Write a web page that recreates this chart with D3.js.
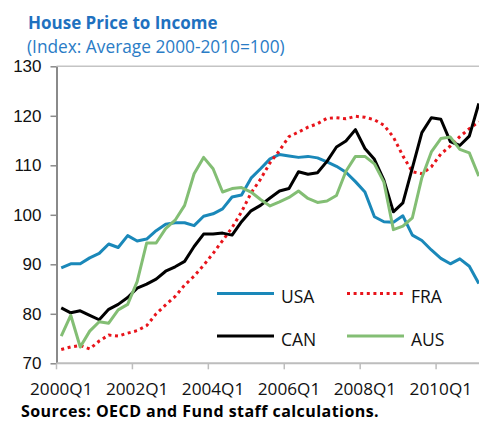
<!DOCTYPE html>
<html>
<head>
<meta charset="utf-8">
<script src="https://cdn.jsdelivr.net/npm/d3@7"></script>
<style>
  body { margin: 0; background: #fff; }
  svg { display: block; }
</style>
</head>
<body>
<div id="chart"></div>
<script>
// quarterly index values, 2000Q1 .. 2011Q1
var usa = [89.3, 90.1, 90.1, 91.3, 92.2, 94.1, 93.4, 95.8, 94.7, 95.1,
           96.8, 98.1, 98.4, 98.4, 97.8, 99.7, 100.2, 101.2, 103.6, 104.0,
           107.4, 109.3, 111.3, 112.2, 111.9, 111.6, 111.8, 111.5, 110.7, 109.8,
           108.6, 106.7, 104.6, 99.6, 98.6, 98.5, 99.8, 95.9, 94.8, 92.9,
           91.2, 90.1, 91.1, 89.6, 86.1];
var fra = [72.8, 73.3, 73.6, 72.9, 74.5, 75.7, 75.5, 76.1, 76.6, 77.6,
           80.0, 81.8, 83.5, 85.8, 87.6, 89.8, 92.2, 94.8, 97.4, 100.6,
           104.4, 107.2, 110.5, 113.0, 115.8, 116.7, 117.7, 118.4, 119.5, 119.6,
           119.4, 119.9, 119.7, 119.2, 118.1, 115.7, 111.9, 108.7, 108.3, 109.7,
           112.3, 113.9, 115.8, 117.4, 118.8];
var can = [81.2, 80.2, 80.6, 79.7, 78.8, 80.9, 81.9, 83.3, 85.2, 86.0,
           87.0, 88.6, 89.5, 90.6, 93.6, 96.1, 96.1, 96.3, 95.9, 98.6,
           100.8, 101.9, 103.4, 104.8, 105.3, 108.7, 108.2, 108.5, 110.8, 113.7,
           114.9, 117.2, 113.4, 111.2, 107.0, 100.6, 102.4, 109.5, 116.6, 119.6,
           119.3, 114.8, 114.0, 115.9, 122.5];
var aus = [75.5, 79.7, 73.3, 76.5, 78.4, 78.1, 80.8, 81.9, 86.5, 94.3,
           94.3, 97.2, 98.9, 101.9, 108.3, 111.6, 109.3, 104.6, 105.3, 105.5,
           104.6, 103.1, 101.8, 102.6, 103.5, 104.8, 103.3, 102.5, 102.8, 103.9,
           108.8, 111.8, 111.8, 110.3, 106.6, 97.0, 97.7, 99.4, 107.5, 112.7,
           115.4, 115.7, 113.2, 112.5, 107.8];

var xTickLabels = ["2000Q1", "2002Q1", "2004Q1", "2006Q1", "2008Q1", "2010Q1"];
var yTicks = [70, 80, 90, 100, 110, 120, 130];

var series = [
  {name: "USA", values: usa, color: "#1a88b9", dash: null},
  {name: "FRA", values: fra, color: "#e8141b", dash: "3,3.6"},
  {name: "CAN", values: can, color: "#000000", dash: null},
  {name: "AUS", values: aus, color: "#83be74", dash: null}
];

var width = 479, height = 422;
var band = 9.49;
var left = 56.5;

var svg = d3.select("#chart").append("svg")
    .attr("width", width)
    .attr("height", height);

var x = d3.scaleLinear()
    .domain([-0.5, usa.length - 0.5])
    .range([left, left + band * usa.length]);

var y = d3.scaleLinear()
    .domain([70, 130])
    .range([363.3, 66.3]);

// title
svg.append("text")
    .attr("x", 28).attr("y", 29)
    .attr("font-family", "'Open Sans', sans-serif")
    .attr("font-weight", "bold")
    .attr("font-size", 17)
    .attr("fill", "#1f71bf")
    .text("House Price to Income");

svg.append("text")
    .attr("x", 27).attr("y", 53)
    .attr("font-family", "'Open Sans', sans-serif")
    .attr("font-size", 17.3)
    .attr("fill", "#2a7cc6")
    .text("(Index: Average 2000-2010=100)");

// top border line
svg.append("line")
    .attr("x1", left).attr("x2", width)
    .attr("y1", y(130)).attr("y2", y(130))
    .attr("stroke", "#c4c4c4")
    .attr("stroke-width", 1.5);

// y axis
var yAxis = svg.append("g")
    .attr("transform", "translate(" + left + ",0)")
    .call(d3.axisLeft(y).tickValues(yTicks).tickSize(6).tickPadding(9).tickSizeOuter(0));
yAxis.select(".domain").attr("stroke", "#8a8a8a").attr("stroke-width", 2);
yAxis.selectAll(".tick line").attr("stroke", "#8a8a8a").attr("stroke-width", 1.5);
yAxis.selectAll(".tick text")
    .attr("font-family", "'Liberation Sans', Arial, sans-serif")
    .attr("font-size", 17)
    .attr("fill", "#111");

// x axis
var xTickPos = d3.range(0, usa.length, 8).map(function(i) { return i - 0.5; });
var xAxis = svg.append("g")
    .attr("transform", "translate(0," + y(70) + ")");
xAxis.append("line")
    .attr("x1", left).attr("x2", width)
    .attr("y1", 0).attr("y2", 0)
    .attr("stroke", "#bdbdbd")
    .attr("stroke-width", 2);
xAxis.selectAll(".xtick")
    .data(xTickPos)
    .enter().append("line")
    .attr("class", "xtick")
    .attr("x1", function(d) { return x(d); })
    .attr("x2", function(d) { return x(d); })
    .attr("y1", 0).attr("y2", 6)
    .attr("stroke", "#bdbdbd")
    .attr("stroke-width", 1.5);
xAxis.selectAll(".xlabel")
    .data(xTickLabels)
    .enter().append("text")
    .attr("class", "xlabel")
    .attr("x", function(d, i) { return x(i * 8); })
    .attr("y", 32)
    .attr("text-anchor", "middle")
    .attr("font-family", "'Open Sans', sans-serif")
    .attr("font-size", 17.2)
    .attr("fill", "#111")
    .text(function(d) { return d; });

// lines
var line = d3.line()
    .x(function(d, i) { return x(i); })
    .y(function(d) { return y(d); });

svg.selectAll(".series")
    .data(series)
    .enter().append("path")
    .attr("class", "series")
    .attr("d", function(d) { return line(d.values); })
    .attr("fill", "none")
    .attr("stroke", function(d) { return d.color; })
    .attr("stroke-width", 3)
    .attr("stroke-linejoin", "round")
    .attr("stroke-dasharray", function(d) { return d.dash; });

// legend
var legendPos = [
  {x: 217, y: 293.5}, {x: 347, y: 293.5},
  {x: 217, y: 336}, {x: 347, y: 336}
];
var legend = svg.selectAll(".legend")
    .data(series)
    .enter().append("g")
    .attr("class", "legend")
    .attr("transform", function(d, i) { return "translate(" + legendPos[i].x + "," + legendPos[i].y + ")"; });
legend.append("line")
    .attr("x1", 0).attr("x2", 57)
    .attr("stroke", function(d) { return d.color; })
    .attr("stroke-width", 3)
    .attr("stroke-dasharray", function(d) { return d.dash; });
legend.append("text")
    .attr("x", 64).attr("y", 9.5)
    .attr("font-family", "'Open Sans', sans-serif")
    .attr("font-size", 17.5)
    .attr("fill", "#111")
    .text(function(d) { return d.name; });

// source
svg.append("text")
    .attr("x", 21).attr("y", 417)
    .attr("font-family", "'Open Sans', sans-serif")
    .attr("font-weight", "bold")
    .attr("font-size", 16)
    .attr("letter-spacing", 0.45)
    .attr("fill", "#000")
    .text("Sources: OECD and Fund staff calculations.");
</script>
</body>
</html>
